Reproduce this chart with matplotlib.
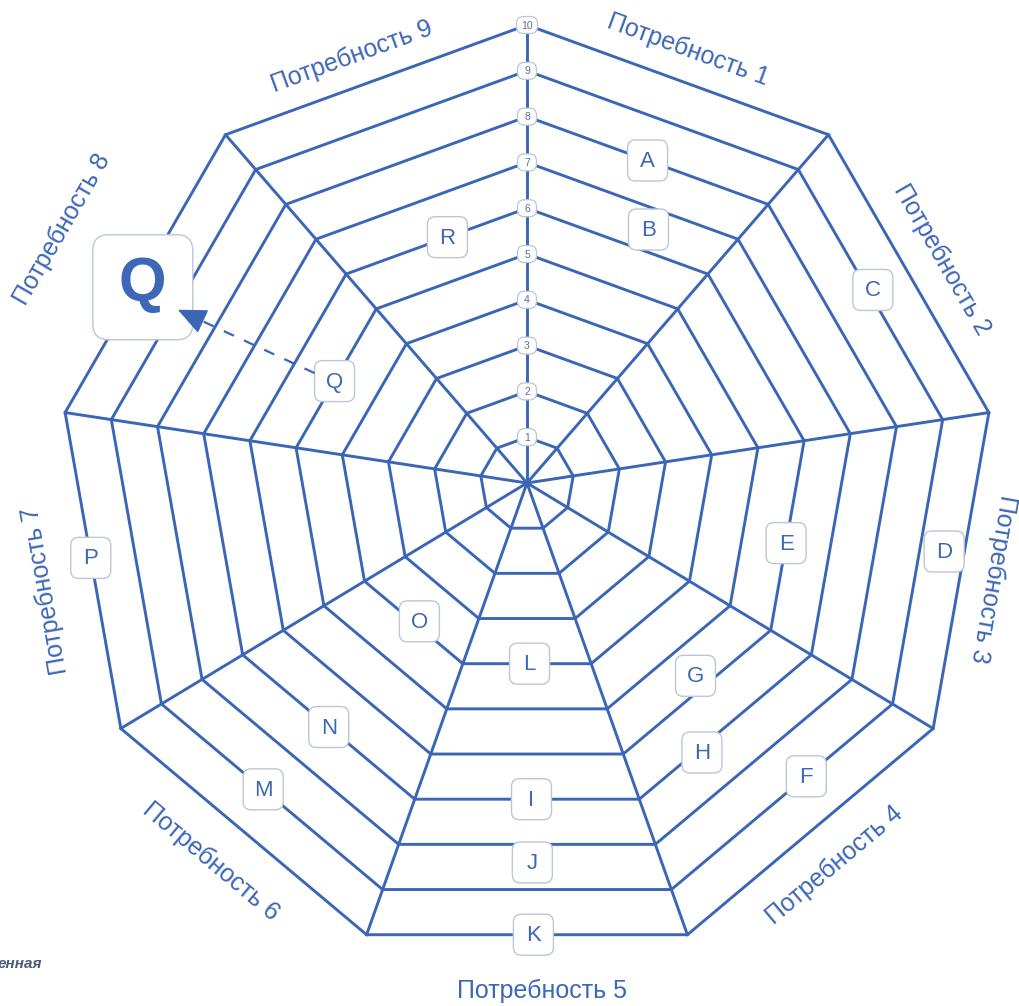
import numpy as np
import matplotlib
matplotlib.use("Agg")
import matplotlib.pyplot as plt
from matplotlib.patches import FancyBboxPatch

plt.rcParams['font.family'] = ['Liberation Sans', 'DejaVu Sans']

# ---------------- data ----------------
needs = ['Потребность 1', 'Потребность 2', 'Потребность 3', 'Потребность 4',
         'Потребность 5', 'Потребность 6', 'Потребность 7', 'Потребность 8',
         'Потребность 9']
levels = [1, 2, 3, 4, 5, 6, 7, 8, 9, 10]

# markers placed on the web: letter, need (sector), position along sector, level
marker_letters = ['A', 'B', 'C', 'D', 'E', 'F', 'G', 'H', 'I', 'J', 'K', 'L',
                  'M', 'N', 'O', 'P', 'Q', 'R']
marker_need = [1, 1, 2, 3, 3, 4, 4, 4, 5, 5, 5, 5, 6, 6, 6, 7, 8, 9]
marker_pos = [0.50, 0.62, 0.49, 0.45, 0.54, 0.39, 0.45, 0.65, 0.48, 0.48, 0.48,
              0.48, 0.54, 0.50, 0.47, 0.54, 0.48, 0.56]
marker_level = [8.0, 6.5, 9.1, 9.55, 6.0, 9.0, 5.7, 7.1, 7.0, 8.4, 10.0, 4.0,
                9.0, 7.0, 3.9, 10.0, 5.0, 6.0]

callout_letter = 'Q'
callout_need = 8
callout_pos = 0.46
callout_level = 9.9

footer_text = 'енная'

# ---------------- layout ----------------
W, H = 1020, 1006
BLUE = '#3b66b6'
TXT = '#3d67b7'
BORDER = '#bcc6d6'
CENTER = np.array([527.0, 494.0])
RADIUS = 469.0
HUB = np.array([527.0, 483.0])
n = len(needs)
angles = np.deg2rad(90 - 40 * np.arange(n))
V = np.stack([CENTER[0] + RADIUS * np.cos(angles),
              CENTER[1] - RADIUS * np.sin(angles)], axis=1)

label_normal = [32, 36, 33, 41, 56, 44, 50, 94, 30]
label_tang = [-1, 4, 3, 3, -15, 6, -11, -3, -15]

fig = plt.figure(figsize=(W / 100, H / 100), dpi=100)
ax = fig.add_axes([0, 0, 1, 1])
ax.set_xlim(0, W)
ax.set_ylim(H, 0)
ax.axis('off')


def web_point(j, t, level):
    a = V[j % n] - HUB
    b = V[(j + 1) % n] - HUB
    return HUB + level / 10.0 * ((1 - t) * a + t * b)


# rings
for k in levels:
    pts = HUB + k / 10.0 * (V - HUB)
    pts = np.vstack([pts, pts[:1]])
    ax.plot(pts[:, 0], pts[:, 1], color=BLUE, lw=2.1, zorder=2,
            solid_joinstyle='miter')
# spokes
for i in range(n):
    ax.plot([HUB[0], V[i, 0]], [HUB[1], V[i, 1]], color=BLUE, lw=2.1, zorder=2)

# level labels on vertical spoke
for k in levels:
    p = HUB + k / 10.0 * (V[0] - HUB)
    w = 19 if k < 10 else 21
    ax.add_patch(FancyBboxPatch((p[0] - w / 2, p[1] - 8.5), w, 17,
                                boxstyle='round,pad=0,rounding_size=7',
                                facecolor='white', edgecolor=BORDER, lw=0.9, zorder=4))
    ax.text(p[0], p[1] + 0.5, str(k), ha='center', va='center', fontsize=7.5,
            color='#5a6f95', zorder=5)

# need labels
for j, name in enumerate(needs):
    phi = np.deg2rad(90 - 40 * j - 20)
    nrm = np.array([np.cos(phi), -np.sin(phi)])
    tan = np.array([np.sin(phi), np.cos(phi)])
    mid = (V[j] + V[(j + 1) % n]) / 2
    pos = mid + label_normal[j] * nrm + label_tang[j] * tan
    rot = (np.rad2deg(phi) - 90 + 180) % 360 - 180
    if abs(rot) > 110:
        rot = (rot + 180 + 180) % 360 - 180
    ax.text(pos[0], pos[1], name, rotation=rot, rotation_mode='anchor',
            ha='center', va='center', fontsize=18, color=TXT, zorder=5)

# letter markers
for letter, need, t, lev in zip(marker_letters, marker_need, marker_pos, marker_level):
    p = web_point(need - 1, t, lev)
    bw, bh = 40, 41
    ax.add_patch(FancyBboxPatch((p[0] - bw / 2, p[1] - bh / 2), bw, bh,
                                boxstyle='round,pad=0,rounding_size=8',
                                facecolor='white', edgecolor=BORDER, lw=1.0, zorder=4))
    ax.text(p[0], p[1] + 1, letter, ha='center', va='center', fontsize=16,
            color=TXT, zorder=5)

# callout
pbig = web_point(callout_need - 1, callout_pos, callout_level)
ax.add_patch(FancyBboxPatch((pbig[0] - 50, pbig[1] - 52), 100, 105,
                            boxstyle='round,pad=0,rounding_size=16',
                            facecolor='white', edgecolor=BORDER, lw=1.0, zorder=4))
ax.text(pbig[0], pbig[1] - 2, callout_letter, ha='center', va='center', fontsize=44,
        fontweight='bold', color=TXT, zorder=5)

qi = marker_letters.index(callout_letter)
psmall = web_point(marker_need[qi] - 1, marker_pos[qi], marker_level[qi])
start = psmall + np.array([-20, -8])
tip = pbig + np.array([35, 23])
d = (start - tip) / np.linalg.norm(start - tip)
head_base = tip + d * 18
ax.plot([start[0], head_base[0]], [start[1], head_base[1]], color=BLUE, lw=1.6,
        linestyle=(0, (5, 5)), zorder=6)
ax.annotate('', xy=tip, xytext=head_base,
            arrowprops=dict(arrowstyle='-|>,head_length=0.9,head_width=0.4',
                            color=BLUE, lw=1.2, mutation_scale=20,
                            shrinkA=0, shrinkB=0), zorder=6)

ax.text(-2, 964, footer_text, ha='left', va='center', fontsize=11,
        style='italic', fontweight='bold', color='#4b5b7a', zorder=5)

fig.savefig('out.png', dpi=100)
